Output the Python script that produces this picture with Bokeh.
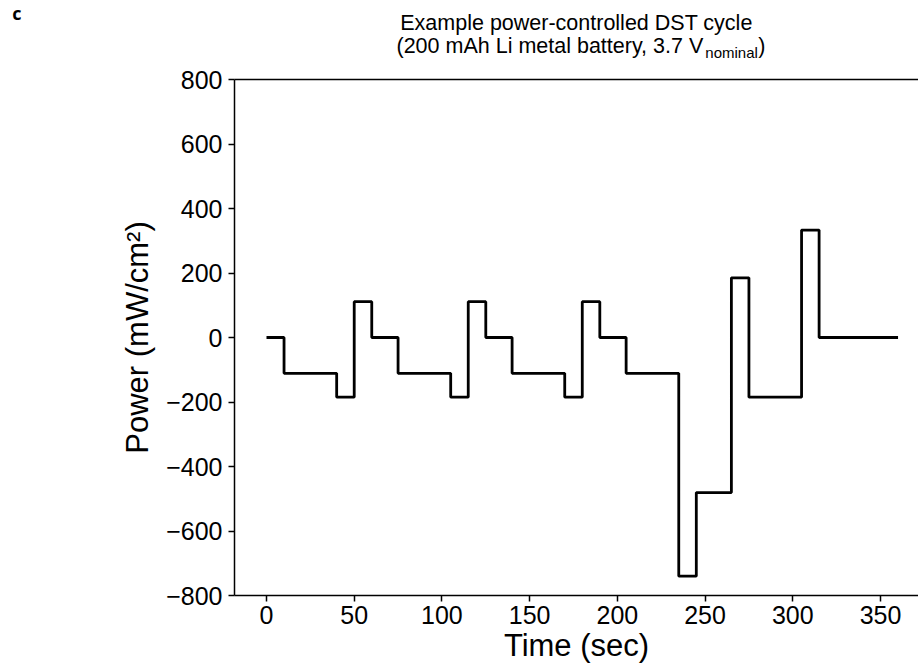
from bokeh.plotting import figure
from bokeh.models import Range1d, FixedTicker, LinearAxis
from bokeh.layouts import column
from bokeh.core.properties import value
from bokeh.embed import file_html
from bokeh.resources import INLINE

# step edges (sec) and power levels (mW/cm^2) held after each edge
time_edges = [0, 10, 40, 50, 60, 75, 105, 115, 125, 140, 170, 180, 190,
              205, 235, 245, 265, 275, 305, 315, 360]
power_levels = [0, -111, -185, 111, 0, -111, -185, 111, 0, -111, -185, 111,
                0, -111, -740, -481, 185, -185, 333, 0, 0]

x_ticks = [0, 50, 100, 150, 200, 250, 300, 350]
y_ticks = [-800, -600, -400, -200, 0, 200, 400, 600, 800]
y_tick_labels = ["\u2212800", "\u2212600", "\u2212400", "\u2212200", "0",
                 "200", "400", "600", "800"]

title_line1 = "Example power-controlled DST cycle"
title_line2 = "(200 mAh Li metal battery, 3.7 V"
title_sub = "nominal"
title_close = ")"
panel_letter = "c"

FONT = "Liberation Sans"
W = 918
LEFT = 234
TITLE_H = 62

# ---------- title strip (frame aligned with main plot frame) ----------
t = figure(width=W, height=TITLE_H, output_backend="svg", toolbar_location=None,
           x_range=Range1d(LEFT, W), y_range=Range1d(TITLE_H, 0),
           x_axis_type=None, y_axis_location=None,
           min_border=0, min_border_left=LEFT, min_border_right=0,
           min_border_top=0, min_border_bottom=0)
t.outline_line_color = None
t.xgrid.visible = False
t.ygrid.visible = False

# panel letter as the single tick label of an invisible left axis
letter_axis = LinearAxis(ticker=FixedTicker(ticks=[12]),
                         major_label_overrides={12: panel_letter},
                         major_label_text_font="Open Sans",
                         major_label_text_font_size="18px",
                         major_label_text_font_style="bold",
                         major_label_text_color="black",
                         major_label_standoff=LEFT - 21,
                         axis_line_color=None, major_tick_line_color=None,
                         minor_tick_line_color=None,
                         major_tick_out=0, major_tick_in=0)
t.add_layout(letter_axis, "left")

TS = 21.5
cx = 576
t.text(x=[cx], y=[22], text=[title_line1], text_align="center",
       text_baseline="middle", text_font=value(FONT),
       text_font_size=f"{TS}px", text_color="black")
w_main = 14.34 * TS
w_sub = 3.501 * 15
w_close = 0.333 * TS
x0 = cx - (w_main + w_sub + w_close) / 2 + 4
t.text(x=[x0], y=[45], text=[title_line2], text_align="left",
       text_baseline="middle", text_font=value(FONT),
       text_font_size=f"{TS}px", text_color="black")
t.text(x=[x0 + w_main + 0.5], y=[52], text=[title_sub], text_align="left",
       text_baseline="middle", text_font=value(FONT),
       text_font_size="15px", text_color="black")
t.text(x=[x0 + w_main + w_sub + 1], y=[45], text=[title_close], text_align="left",
       text_baseline="middle", text_font=value(FONT),
       text_font_size=f"{TS}px", text_color="black")

# ---------- main plot ----------
px_per_sec = 1.7543
frame_w = W - LEFT
x_start = -32 / px_per_sec
x_end = x_start + frame_w / px_per_sec
TOP_BORDER = 79 - TITLE_H

p = figure(width=W, height=TOP_BORDER + 516 + 72, output_backend="svg",
           toolbar_location=None,
           x_range=Range1d(x_start, x_end), y_range=Range1d(-800, 800),
           min_border_left=LEFT, min_border_right=0, min_border_top=TOP_BORDER,
           min_border_bottom=72)
p.outline_line_color = None
p.xgrid.visible = False
p.ygrid.visible = False

p.step(time_edges, power_levels, mode="after", line_color="black",
       line_width=2.8)

for ax in (p.xaxis[0], p.yaxis[0]):
    ax.axis_line_color = "black"
    ax.axis_line_width = 1.5
    ax.major_tick_line_color = "black"
    ax.major_tick_line_width = 1.5
    ax.major_tick_out = 6
    ax.major_tick_in = 0
    ax.minor_tick_line_color = None
    ax.major_label_text_font = FONT
    ax.major_label_text_font_size = "25px"
    ax.major_label_text_color = "black"
    ax.axis_label_text_font = FONT
    ax.axis_label_text_font_size = "31px"
    ax.axis_label_text_font_style = "normal"
    ax.axis_label_text_color = "black"

p.xaxis[0].ticker = FixedTicker(ticks=x_ticks)
p.yaxis[0].ticker = FixedTicker(ticks=y_ticks)
p.yaxis[0].major_label_overrides = {v: s for v, s in zip(y_ticks, y_tick_labels)}
p.xaxis[0].axis_label = "Time (sec)"
p.yaxis[0].axis_label = "Power (mW/cm\u00b2)"
p.xaxis[0].major_label_standoff = 4
p.yaxis[0].major_label_standoff = 6
p.xaxis[0].axis_label_standoff = 1
p.yaxis[0].axis_label_standoff = 8

top = LinearAxis(ticker=FixedTicker(ticks=[]), major_label_text_font_size="0px",
                 major_label_standoff=0, axis_line_color="black",
                 axis_line_width=1.5, major_tick_line_color=None,
                 minor_tick_line_color=None, major_tick_out=0, major_tick_in=0)
p.add_layout(top, "above")

layout = column(t, p, spacing=0)
open("out.html", "w").write(file_html(layout, INLINE))
